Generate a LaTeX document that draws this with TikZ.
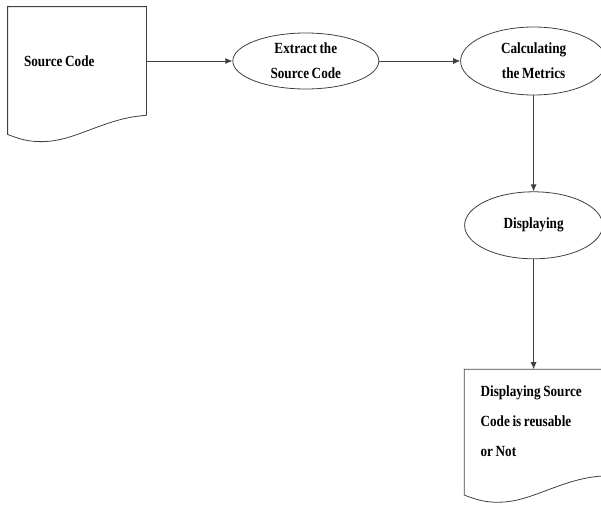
\documentclass[tikz,border=0pt]{standalone}
\usepackage{fontspec}
\setmainfont{Liberation Serif}[FakeStretch=0.85, WordSpace=0.8]
\usetikzlibrary{shapes}
\usetikzlibrary{calc}
\usetikzlibrary{positioning, arrows.meta}

\begin{document}
\begin{tikzpicture}[x=1pt, y=-1pt, node distance={86pt}, line width=0.8pt,
    txt/.style = {font=\bfseries\fontsize{15.5}{25}\selectfont},
    doc/.style = {txt, rectangle, inner xsep=16pt, inner ysep=0pt, text width=106pt, minimum width=138pt, minimum height=106pt, align=flush left},
    proc/.style = {txt, draw=black!75, ellipse, inner sep=0pt, align=center},
    flow/.style = {draw=black!75, -{Latex[length=7pt, width=6pt]}}]
    \useasboundingbox (0,0) rectangle (601,506);
    \clip (0,0) rectangle (601,506);
    \node[doc, minimum height=108pt] (src) at (77,61) {Source Code};
    \node[proc, minimum width=146pt, minimum height=56pt] (ext) [right=86pt of src] {Extract the\\Source Code};
    \node[proc, minimum width=146pt, minimum height=68pt] (calc) [right=81pt of ext] {Calculating\\the Metrics};
    \node[proc, minimum width=138pt, minimum height=67pt] (disp) [below=96pt of calc] {Displaying};
    \node[doc, font=\bfseries\fontsize{15.5}{30}\selectfont, text depth=63pt] (out) [below=110pt of disp] {Displaying Source\\Code is reusable\\or Not};
    % document outlines
    \draw[draw=black!75] (src.south east) -- (src.north east) -- (src.north west) -- ($(src.south west)+(0,19)$)
        .. controls ($(src.south west)+(15,25)$) and ($(src.south west)+(25,27)$) .. ($(src.south west)+(40,26)$)
        .. controls ($(src.south west)+(70,24)$) and ($(src.south west)+(100,2)$) .. (src.south east);
    \draw[draw=black!75] (out.south east) -- (out.north east) -- (out.north west) -- ($(out.south west)+(0,19)$)
        .. controls ($(out.south west)+(15,25)$) and ($(out.south west)+(25,27)$) .. ($(out.south west)+(40,26)$)
        .. controls ($(out.south west)+(70,24)$) and ($(out.south west)+(100,2)$) .. (out.south east);
    \draw[flow] (src) -- (ext);
    \draw[flow] (ext) -- (calc);
    \draw[flow] (calc) -- (disp);
    \draw[flow] (disp) -- (out);
\end{tikzpicture}
\end{document}
